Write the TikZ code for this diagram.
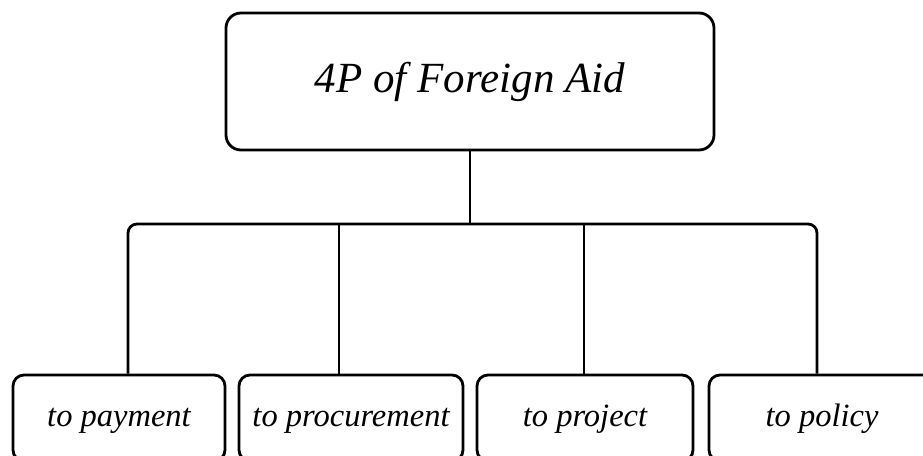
\documentclass[tikz,border=0pt]{standalone}
\usepackage{fontspec}
\setmainfont{Liberation Serif}
\begin{document}
\begin{tikzpicture}[x=1pt,y=-1pt,
  line width=2.8pt,
  topbox/.style={draw, rounded corners=15pt, minimum width=488pt, minimum height=137pt, inner sep=0pt, font=\fontsize{43}{50}\selectfont\itshape},
  subbox/.style={draw, rounded corners=11pt, minimum height=86pt, inner sep=0pt, text height=22pt, text depth=5pt, font=\fontsize{32.5}{38}\selectfont\itshape},
  link/.style={draw, line width=2.8pt, rounded corners=9pt}]
\fill[white] (0,0) rectangle (923,455);
\clip (0,0) rectangle (923,455);
\useasboundingbox (0,0) rectangle (923,455);
\node[topbox] (top) at (470,81.5) {4P of Foreign Aid};
\node[subbox, minimum width=212pt] (b1) at (119,418) {to payment};
\node[subbox, minimum width=224pt] (b2) at (351,418) {to procurement};
\node[subbox, minimum width=216pt] (b3) at (585,418) {to project};
\node[subbox, minimum width=226pt] (b4) at (822,418) {to policy};
\coordinate (c1) at (128,224);
\coordinate (c2) at (339,224);
\coordinate (c3) at (584,224);
\coordinate (c4) at (817,224);
\path[link] (top.south) -- (top.south |- c1);
\path[link] (b1.north -| c1) -- (c1) -- (c4) -- (b4.north -| c4);
\path[link] (c2) -- (b2.north -| c2);
\path[link] (c3) -- (b3.north -| c3);
\end{tikzpicture}
\end{document}
